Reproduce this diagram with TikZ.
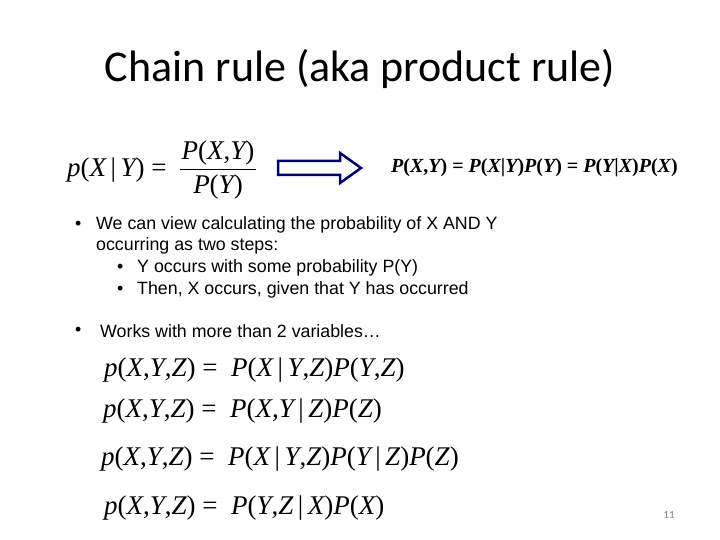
\documentclass[tikz,border=0pt]{standalone}
\usepackage{fontspec}
\setmainfont{Liberation Sans}
\newfontfamily\titlefont{Carlito}
\newfontfamily\mfont{Liberation Serif}
\newcommand{\up}[1]{{\upshape #1}}
\begin{document}
\begin{tikzpicture}[x=1pt,y=-1pt,
  txt/.style={anchor=west,inner sep=0pt,font=\fontsize{17.8}{20}\selectfont},
  eq/.style={anchor=west,inner sep=0pt,font=\fontsize{27}{30}\mfont\itshape}]
\useasboundingbox (0,0) rectangle (720,540);
\node[inner sep=0pt,font=\fontsize{44}{50}\titlefont] (title) at (360,69) {Chain rule (aka product rule)};
\node[eq] (e1) at (67,170) {p\up{(}X\,\up{|}\,Y\up{)} \up{=}};
\node[inner sep=0pt,font=\fontsize{27}{30}\mfont\itshape] (num) at (218,153) {P\up{(}X\up{,}Y\up{)}};
\node[inner sep=0pt,font=\fontsize{27}{30}\mfont\itshape] (den) at (218,187) {P\up{(}Y\up{)}};
\draw[line width=1pt] (180,170) -- (256,170);
\draw[draw=blue!30!black!80!blue,line width=2.5pt,line join=miter]
  (278,161) -- (340,161) -- (340,153) -- (361,168) -- (340,183) -- (340,175) -- (278,175) -- cycle;
\node[anchor=west,inner sep=0pt,font=\fontsize{20}{22}\mfont\bfseries\itshape] (e2) at (391,168)
  {P\up{(}X\up{,}Y\up{)} \up{=} P\up{(}X\up{|}Y\up{)}P\up{(}Y\up{)} \up{=} P\up{(}Y\up{|}X\up{)}P\up{(}X\up{)}};
\node[txt] (b1) at (75,225) {•};
\node[txt] (t1) at (96,225) {We can view calculating the probability of X AND Y};
\node[txt] (t2) at (96,246) {occurring as two steps:};
\node[txt] (b2) at (117,268) {•};
\node[txt] (t3) at (137,268) {Y occurs with some probability P(Y)};
\node[txt] (b3) at (117,290) {•};
\node[txt] (t4) at (137,290) {Then, X occurs, given that Y has occurred};
\node[txt] (b4) at (75,331) {•};
\node[txt] (t5) at (100,331) {Works with more than 2 variables…};
\node[eq] (f1) at (104,370) {p\up{(}X\up{,}Y\up{,}Z\up{)} \up{=} \ P\up{(}X\,\up{|}\,Y\up{,}Z\up{)}P\up{(}Y\up{,}Z\up{)}};
\node[eq] (f2) at (103,411) {p\up{(}X\up{,}Y\up{,}Z\up{)} \up{=} \ P\up{(}X\up{,}Y\,\up{|}\,Z\up{)}P\up{(}Z\up{)}};
\node[eq] (f3) at (101,459) {p\up{(}X\up{,}Y\up{,}Z\up{)} \up{=} \ P\up{(}X\,\up{|}\,Y\up{,}Z\up{)}P\up{(}Y\,\up{|}\,Z\up{)}P\up{(}Z\up{)}};
\node[eq] (f4) at (104,508) {p\up{(}X\up{,}Y\up{,}Z\up{)} \up{=} \ P\up{(}Y\up{,}Z\,\up{|}\,X\up{)}P\up{(}X\up{)}};
\node[inner sep=0pt,font=\fontsize{11}{13}\titlefont,text=gray] (pg) at (669,515) {11};
\end{tikzpicture}
\end{document}
